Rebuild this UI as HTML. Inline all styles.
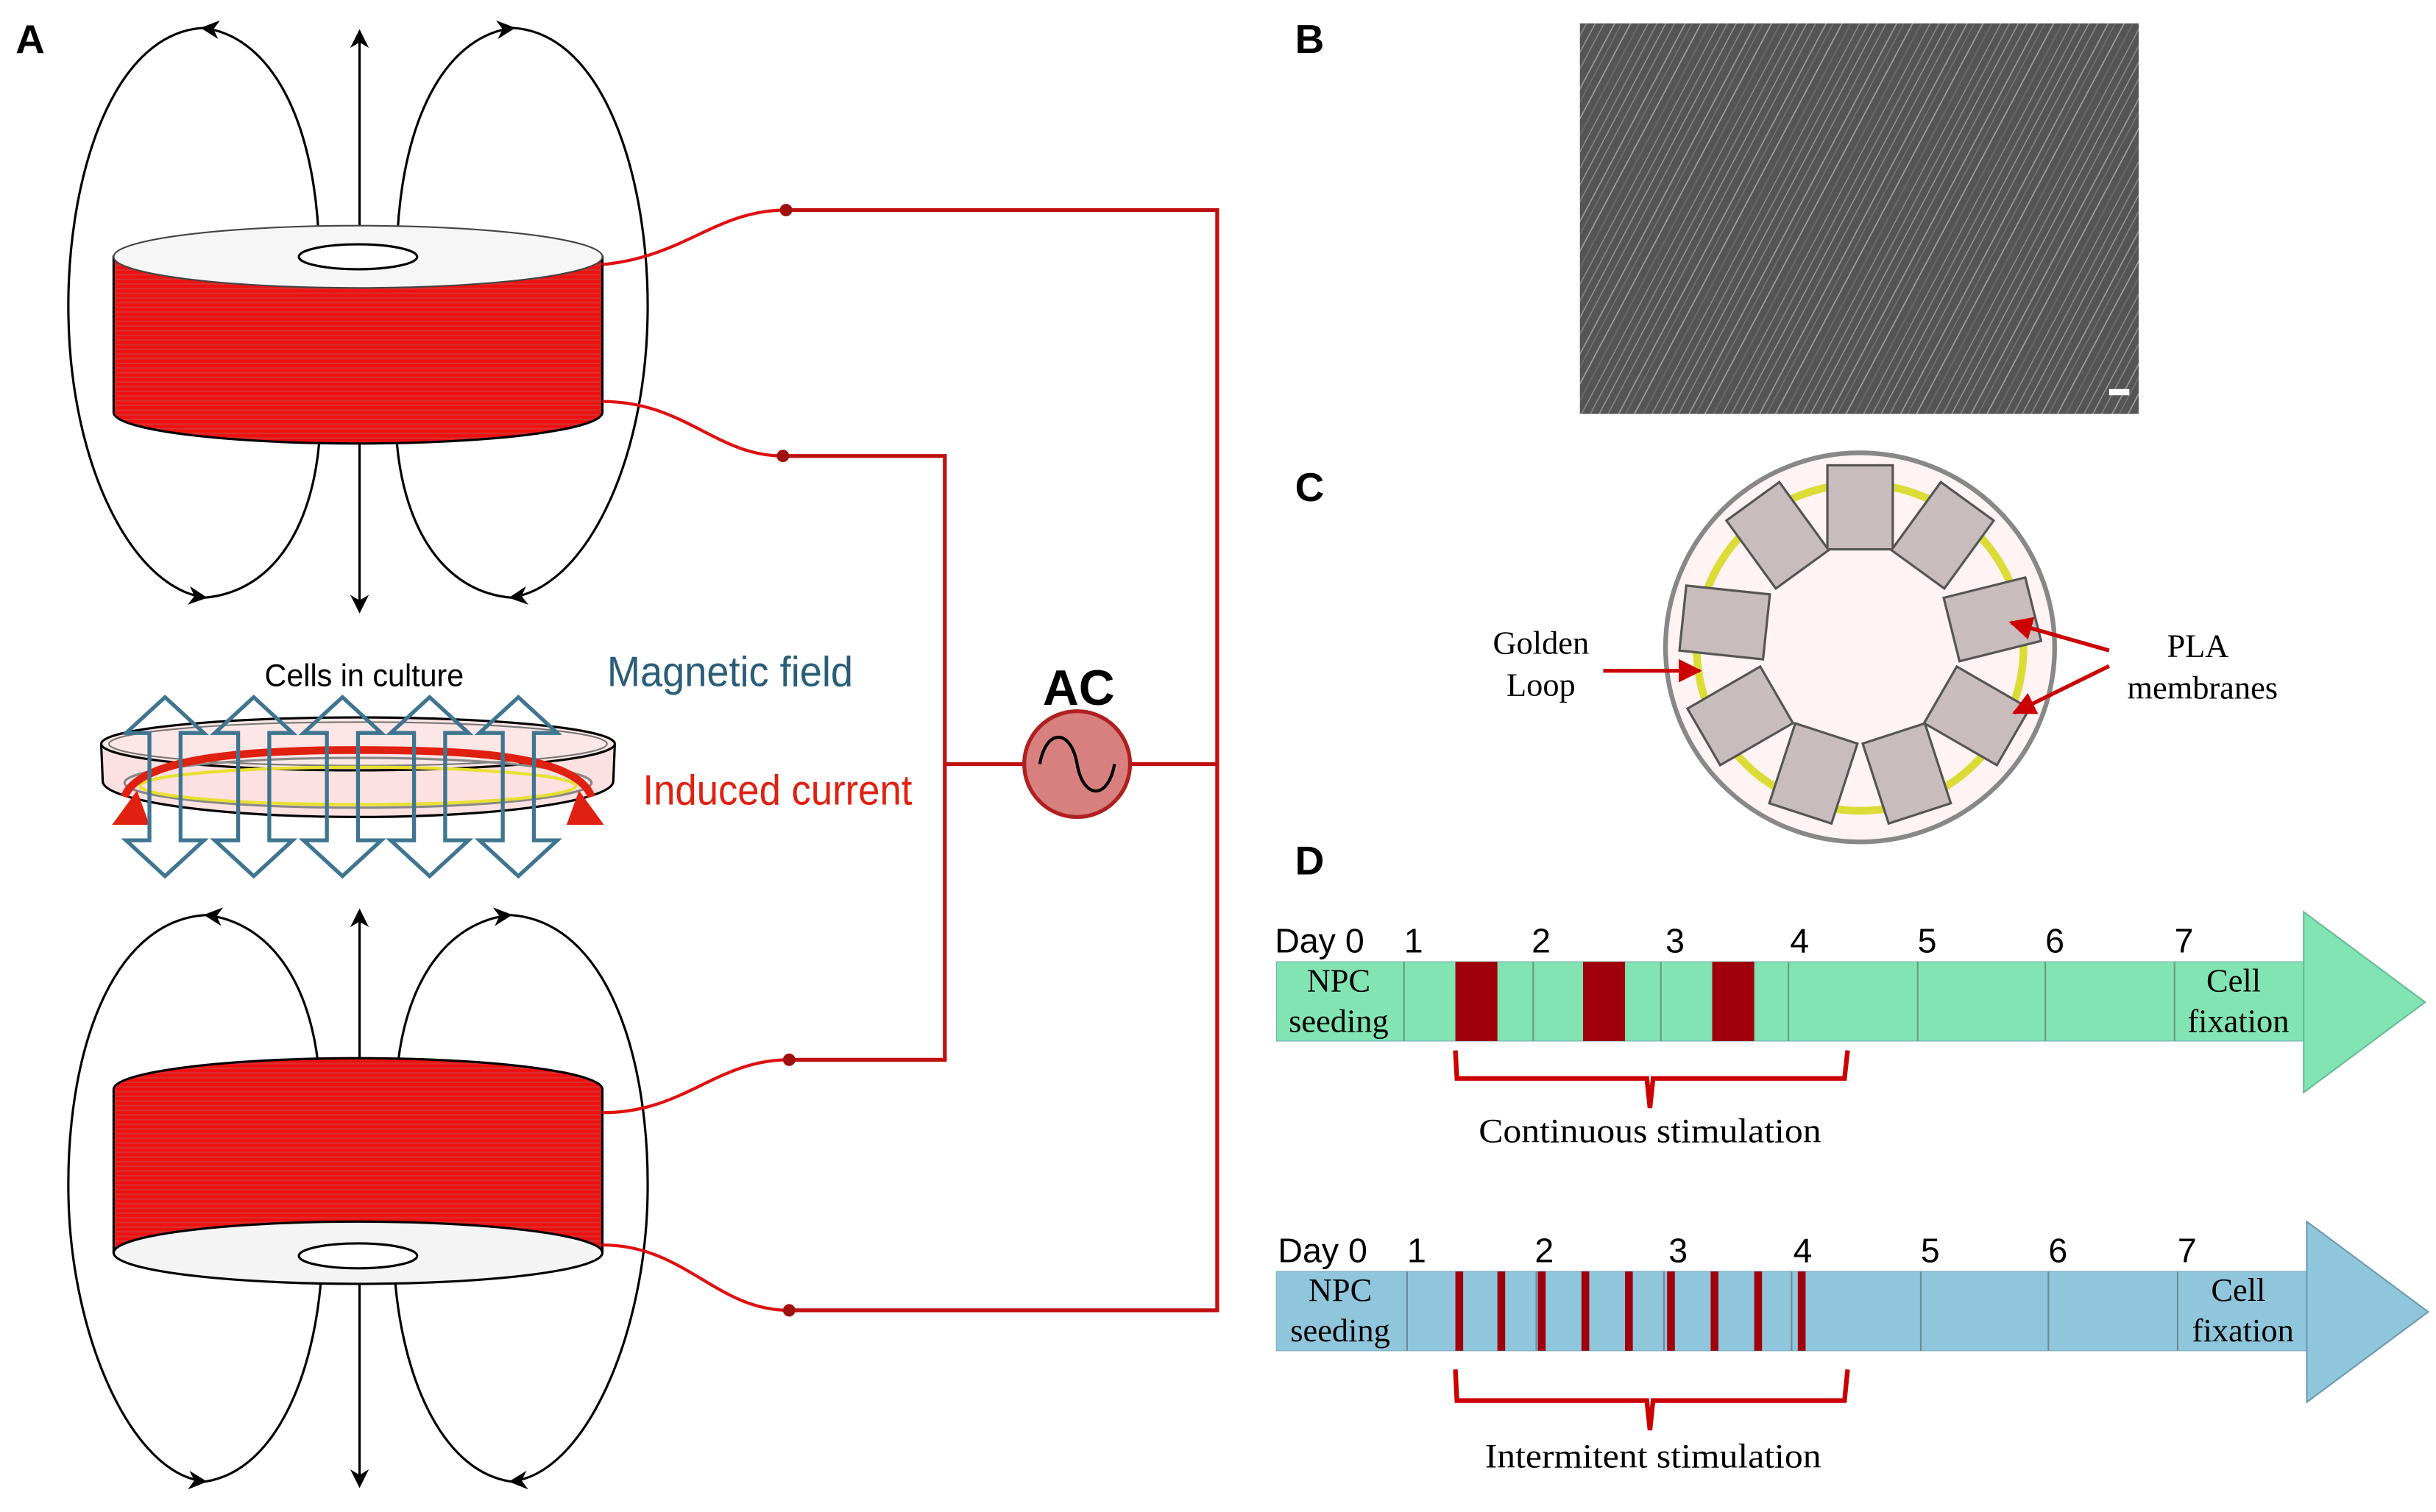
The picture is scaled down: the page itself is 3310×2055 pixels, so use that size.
<!DOCTYPE html>
<html><head><meta charset="utf-8"><style>
html,body{margin:0;padding:0;background:#fff;width:3310px;height:2055px;overflow:hidden}
svg{display:block}
.sans{font-family:"Liberation Sans",sans-serif}
.serif{font-family:"Liberation Serif",serif}
</style></head><body>
<svg width="3310" height="2055" viewBox="0 0 1565 971.6" preserveAspectRatio="none" xmlns="http://www.w3.org/2000/svg">
<defs>
<marker id="ah" viewBox="0 0 10 10" refX="9" refY="5" markerWidth="8" markerHeight="8" orient="auto-start-reverse"><path d="M0,0 L10,5 L0,10 L3,5 z" fill="#000"/></marker>
<marker id="rh" viewBox="0 0 10 10" refX="9" refY="5" markerWidth="6" markerHeight="6" orient="auto"><path d="M0,0 L10,5 L0,10 z" fill="#c00"/></marker>
<pattern id="stripes" width="6" height="3" patternUnits="userSpaceOnUse"><rect width="6" height="3" fill="#f01010"/><rect y="2" width="6" height="1" fill="#d83030"/></pattern>
<pattern id="fib" width="40" height="40" patternUnits="userSpaceOnUse" patternTransform="rotate(-62)">
<rect width="40" height="40" fill="#555"/>
<line x1="0" y1="3" x2="40" y2="3" stroke="#9a9a9a" stroke-width="0.8"/>
<line x1="0" y1="7" x2="40" y2="7" stroke="#7a7a7a" stroke-width="0.6"/>
<line x1="0" y1="12" x2="40" y2="12" stroke="#aaa" stroke-width="0.7"/>
<line x1="0" y1="17" x2="40" y2="17" stroke="#6a6a6a" stroke-width="0.9"/>
<line x1="0" y1="22" x2="40" y2="22" stroke="#999" stroke-width="0.6"/>
<line x1="0" y1="27" x2="40" y2="27" stroke="#858585" stroke-width="0.8"/>
<line x1="0" y1="32" x2="40" y2="32" stroke="#a5a5a5" stroke-width="0.6"/>
<line x1="0" y1="37" x2="40" y2="37" stroke="#8a8a8a" stroke-width="0.7"/>
</pattern>
</defs>

<text x="10" y="34" class="sans" font-size="26" font-weight="bold">A</text>

<g fill="none" stroke="#000" stroke-width="1.5">
<line x1="231" y1="150" x2="231" y2="20" marker-end="url(#ah)"/>
<line x1="231" y1="285" x2="231" y2="393" marker-end="url(#ah)"/>
<path d="M205,158 C202,70 170,22 130,18" marker-end="url(#ah)"/>
<path d="M130,18 C70,22 42,120 44,205 C46,300 85,378 132,384" marker-end="url(#ah)"/>
<path d="M255,158 C258,70 290,22 330,18" marker-end="url(#ah)"/>
<path d="M330,18 C390,22 418,120 416,205 C414,300 375,378 328,384" marker-end="url(#ah)"/>
<path d="M205,285 C200,340 175,380 132,384"/>
<path d="M255,285 C260,340 285,380 328,384"/>
</g>
<path d="M73,165 L73,265 A157,20 0 0 0 387,265 L387,165 Z" fill="url(#stripes)" stroke="#000" stroke-width="1.5"/>
<ellipse cx="230" cy="165" rx="157" ry="20" fill="#f6f6f6" stroke="#444" stroke-width="1"/>
<ellipse cx="230" cy="165" rx="38" ry="8" fill="#fff" stroke="#000" stroke-width="1.5"/>

<g fill="none" stroke="#000" stroke-width="1.5">
<line x1="231" y1="690" x2="231" y2="585" marker-end="url(#ah)"/>
<line x1="231" y1="812" x2="231" y2="955" marker-end="url(#ah)"/>
<path d="M205,690 C200,630 172,592 132,588" marker-end="url(#ah)"/>
<path d="M132,588 C70,592 42,680 44,770 C46,860 85,948 132,952" marker-end="url(#ah)"/>
<path d="M255,690 C260,630 288,592 328,588" marker-end="url(#ah)"/>
<path d="M328,588 C390,592 418,680 416,770 C414,860 375,948 328,952" marker-end="url(#ah)"/>
<path d="M207,810 C204,880 178,945 132,952"/>
<path d="M253,810 C256,880 282,945 328,952"/>
</g>
<path d="M73,700 A157,20 0 0 1 387,700 L387,805 L73,805 Z" fill="url(#stripes)" stroke="#000" stroke-width="1.5"/>
<ellipse cx="230" cy="805" rx="157" ry="20" fill="#f4f4f4" stroke="#000" stroke-width="1.5"/>
<ellipse cx="230" cy="807" rx="38" ry="8" fill="#fff" stroke="#000" stroke-width="1.5"/>

<g fill="none" stroke="#e01010" stroke-width="2">
<path d="M387,170 C440,165 460,135 505,135"/>
<path d="M387,258 C440,258 460,293 503,293"/>
<path d="M387,715 C440,715 460,681 507,681"/>
<path d="M387,800 C440,800 460,842 507,842"/>
</g>
<g fill="none" stroke="#c01010" stroke-width="2.5">
<polyline points="505,135 782,135 782,842 507,842"/>
<polyline points="503,293 607,293 607,681 507,681"/>
<line x1="607" y1="491" x2="658" y2="491"/>
<line x1="726" y1="491" x2="782" y2="491"/>
</g>
<g fill="#a01010"><circle cx="505" cy="135" r="4"/><circle cx="503" cy="293" r="4"/><circle cx="507" cy="681" r="4"/><circle cx="507" cy="842" r="4"/></g>
<circle cx="692" cy="491" r="34" fill="#d88080" stroke="#b02020" stroke-width="2.5"/>
<path d="M668,491 C672,468 688,468 692,491 C696,514 712,514 716,491" fill="none" stroke="#000" stroke-width="2"/>
<text x="693" y="453" class="sans" font-size="32" font-weight="bold" text-anchor="middle">AC</text>

<text x="170" y="441" class="sans" font-size="20" textLength="128" lengthAdjust="spacingAndGlyphs">Cells in culture</text>
<text x="390" y="441" class="sans" font-size="27" fill="#2a5d78" textLength="158" lengthAdjust="spacingAndGlyphs">Magnetic field</text>
<text x="413" y="517" class="sans" font-size="27" fill="#e02010" textLength="173" lengthAdjust="spacingAndGlyphs">Induced current</text>
<path d="M65,478 L66,502 A164,23 0 0 0 394,502 L395,478" fill="#fde0e0" stroke="#000" stroke-width="1.5"/>
<ellipse cx="230" cy="478" rx="165" ry="17" fill="#fde6e6" stroke="#000" stroke-width="1.5"/>
<ellipse cx="230" cy="478" rx="160" ry="14" fill="none" stroke="#777" stroke-width="1"/>
<ellipse cx="230" cy="503" rx="150" ry="16" fill="none" stroke="#888" stroke-width="1.5"/>
<ellipse cx="230" cy="505" rx="140" ry="12" fill="none" stroke="#e8e030" stroke-width="2"/>
<path d="M80,512 C90,485 170,482 230,482 C300,482 370,485 380,512" fill="none" stroke="#e02010" stroke-width="5"/>
<path d="M72,530 L88,508 L96,530 Z" fill="#e02010"/>
<path d="M388,530 L372,508 L364,530 Z" fill="#e02010"/>
<g fill="none" stroke="#3f7590" stroke-width="2.5" stroke-linejoin="miter">
<path id="dar" d="M106,448 L131,471 L116,471 L116,540 L131,540 L106,563 L81,540 L96,540 L96,471 L81,471 Z"/>
<use href="#dar" x="57"/><use href="#dar" x="114"/><use href="#dar" x="170"/><use href="#dar" x="227"/>
</g>

<text x="832" y="34" class="sans" font-size="26" font-weight="bold">B</text>
<rect x="1015" y="15" width="359" height="251" fill="url(#fib)"/>
<rect x="1355" y="250" width="13" height="4" fill="#fff"/>

<text x="832" y="322" class="sans" font-size="26" font-weight="bold">C</text>
<circle cx="1195" cy="416" r="125" fill="#fff3f3" stroke="#888" stroke-width="3"/>
<circle cx="1195" cy="416" r="105" fill="none" stroke="#dcdc38" stroke-width="5"/>
<g fill="#c8bcbc" stroke="#555" stroke-width="1.5">
<rect x="-21" y="-27" width="42" height="54" transform="translate(1195,326)"/>
<rect x="-21" y="-27" width="42" height="54" transform="translate(1248,344) rotate(36)"/>
<rect x="-21" y="-27" width="42" height="54" transform="translate(1280,398) rotate(76)"/>
<rect x="-21" y="-27" width="42" height="54" transform="translate(1270,460) rotate(120)"/>
<rect x="-21" y="-27" width="42" height="54" transform="translate(1225,497) rotate(162)"/>
<rect x="-21" y="-27" width="42" height="54" transform="translate(1165,497) rotate(-162)"/>
<rect x="-21" y="-27" width="42" height="54" transform="translate(1118,460) rotate(-120)"/>
<rect x="-21" y="-27" width="42" height="54" transform="translate(1108,400) rotate(-84)"/>
<rect x="-21" y="-27" width="42" height="54" transform="translate(1142,344) rotate(-36)"/>
</g>
<text x="990" y="420" class="serif" font-size="21" text-anchor="middle">Golden</text>
<text x="990" y="447" class="serif" font-size="21" text-anchor="middle">Loop</text>
<text x="1412" y="422" class="serif" font-size="21" text-anchor="middle">PLA</text>
<text x="1415" y="449" class="serif" font-size="21" text-anchor="middle">membranes</text>
<g stroke="#c00" stroke-width="2.5" fill="none">
<line x1="1030" y1="431" x2="1092" y2="431" marker-end="url(#rh)"/>
<line x1="1355" y1="418" x2="1292" y2="400" marker-end="url(#rh)"/>
<line x1="1355" y1="428" x2="1294" y2="458" marker-end="url(#rh)"/>
</g>

<text x="832" y="562" class="sans" font-size="26" font-weight="bold">D</text>
<rect x="820" y="618" width="661" height="51" fill="#82e4b2" stroke="#7ab" stroke-width="0.5"/>
<path d="M1480,586 L1558,644 L1480,702 Z" fill="#82e4b2" stroke="#6b9" stroke-width="1"/>
<g stroke="#6a9a80" stroke-width="1"><line x1="902" y1="618" x2="902" y2="669"/><line x1="985" y1="618" x2="985" y2="669"/><line x1="1067" y1="618" x2="1067" y2="669"/><line x1="1149" y1="618" x2="1149" y2="669"/><line x1="1232" y1="618" x2="1232" y2="669"/><line x1="1314" y1="618" x2="1314" y2="669"/><line x1="1397" y1="618" x2="1397" y2="669"/></g>
<g fill="#a0000c"><rect x="935" y="618" width="27" height="51"/><rect x="1017" y="618" width="27" height="51"/><rect x="1100" y="618" width="27" height="51"/></g>
<g class="sans" font-size="22"><text x="819" y="612">Day 0</text><text x="902" y="612">1</text><text x="984" y="612">2</text><text x="1070" y="612">3</text><text x="1150" y="612">4</text><text x="1232" y="612">5</text><text x="1314" y="612">6</text><text x="1397" y="612">7</text></g>
<g class="serif" font-size="21" text-anchor="middle"><text x="860" y="637">NPC</text><text x="860" y="663">seeding</text><text x="1435" y="637">Cell</text><text x="1438" y="663">fixation</text></g>
<path d="M935,675 L936,693 L1058,693 L1060,712 L1062,693 L1185,693 L1187,675" fill="none" stroke="#c00" stroke-width="3"/>
<text x="1060" y="734" class="serif" font-size="22" text-anchor="middle" textLength="220" lengthAdjust="spacingAndGlyphs">Continuous stimulation</text>
<rect x="820" y="817" width="663" height="51" fill="#90c6dc" stroke="#7ab" stroke-width="0.5"/>
<path d="M1482,785 L1560,843 L1482,901 Z" fill="#90c6dc" stroke="#6a9ab0" stroke-width="1"/>
<g stroke="#6a8a9a" stroke-width="1"><line x1="904" y1="817" x2="904" y2="868"/><line x1="987" y1="817" x2="987" y2="868"/><line x1="1069" y1="817" x2="1069" y2="868"/><line x1="1151" y1="817" x2="1151" y2="868"/><line x1="1234" y1="817" x2="1234" y2="868"/><line x1="1316" y1="817" x2="1316" y2="868"/><line x1="1399" y1="817" x2="1399" y2="868"/></g>
<g fill="#a0000c"><rect x="935" y="817" width="5" height="51"/><rect x="962" y="817" width="5" height="51"/><rect x="988" y="817" width="5" height="51"/><rect x="1016" y="817" width="5" height="51"/><rect x="1044" y="817" width="5" height="51"/><rect x="1071" y="817" width="5" height="51"/><rect x="1099" y="817" width="5" height="51"/><rect x="1127" y="817" width="5" height="51"/><rect x="1155" y="817" width="5" height="51"/></g>
<g class="sans" font-size="22"><text x="821" y="811">Day 0</text><text x="904" y="811">1</text><text x="986" y="811">2</text><text x="1072" y="811">3</text><text x="1152" y="811">4</text><text x="1234" y="811">5</text><text x="1316" y="811">6</text><text x="1399" y="811">7</text></g>
<g class="serif" font-size="21" text-anchor="middle"><text x="861" y="836">NPC</text><text x="861" y="862">seeding</text><text x="1438" y="836">Cell</text><text x="1441" y="862">fixation</text></g>
<path d="M935,880 L936,900 L1058,900 L1060,919 L1062,900 L1185,900 L1187,880" fill="none" stroke="#c00" stroke-width="3"/>
<text x="1062" y="943" class="serif" font-size="22" text-anchor="middle" textLength="216" lengthAdjust="spacingAndGlyphs">Intermitent stimulation</text>
</svg>
</body></html>
